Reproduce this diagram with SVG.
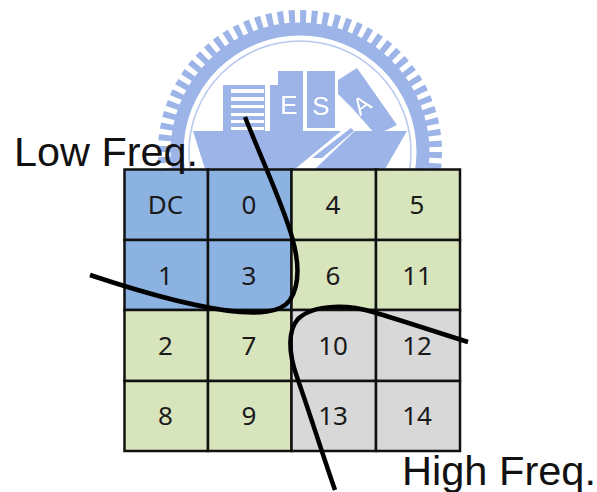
<svg xmlns="http://www.w3.org/2000/svg" width="597" height="492" viewBox="0 0 597 492">
<style>
.cell{stroke:#111;stroke-width:2.5}
.b{fill:#8cb2e1}.g{fill:#d8e4bc}.h{fill:#d8d8d8}
.n{font:26px "Noto Sans","Liberation Sans",sans-serif;fill:#1a1a1a;text-anchor:middle}
.big{font:41px "Liberation Sans",Arial,sans-serif;fill:#111}
.curve{fill:none;stroke:#000;stroke-width:4.5;stroke-linecap:butt}
.logo{fill:#9db4e8}
</style>
<defs><filter id="soft"><feGaussianBlur stdDeviation="0.7"/></filter></defs>
<rect width="597" height="492" fill="#fff"/>
<g id="logo" filter="url(#soft)">
<circle cx="300" cy="152" r="135.5" fill="none" stroke="#9db4e8" stroke-width="13" stroke-dasharray="6 5.2"/>
<circle cx="300" cy="152" r="123" fill="none" stroke="#9db4e8" stroke-width="13"/>
<circle cx="300" cy="152" r="111" fill="none" stroke="#b9c9ee" stroke-width="1.5"/>
<rect class="logo" x="223" y="85" width="42" height="46"/>
<g fill="#fff"><rect x="231" y="89" width="33" height="4"/><rect x="231" y="97" width="33" height="4"/><rect x="231" y="105" width="33" height="3"/><rect x="231" y="113" width="33" height="3"/><rect x="231" y="120" width="33" height="3"/><rect x="231" y="127" width="33" height="3"/></g>
<rect class="logo" x="270" y="85" width="10" height="46"/>
<rect class="logo" x="278" y="71" width="25" height="60"/>
<rect class="logo" x="307" y="71" width="28" height="57"/>
<polygon class="logo" points="338,80 357,68 397,125 376,135 352,108 338,94"/>
<polygon class="logo" points="193,131 407,131 385,169 205,169"/>
<polygon fill="#fff" points="352,122 358,128 315,169 295,169"/>
<polygon class="logo" points="351,128 354,131 322,158 312,158"/>
<text x="289" y="114" font-family="Liberation Sans,sans-serif" font-size="26" fill="#fff" text-anchor="middle">E</text>
<text x="321" y="115" font-family="Liberation Sans,sans-serif" font-size="26" fill="#fff" text-anchor="middle">S</text>
<text x="362" y="113" font-family="Liberation Sans,sans-serif" font-size="24" fill="#fff" text-anchor="middle" transform="rotate(-35 362 105)">A</text>
</g>
<g id="grid">
<rect class="cell b" x="124.5" y="169.5" width="83.5" height="70.5"/><rect class="cell b" x="208" y="169.5" width="83.5" height="70.5"/><rect class="cell g" x="291.5" y="169.5" width="84.5" height="70.5"/><rect class="cell g" x="376" y="169.5" width="84" height="70.5"/>
<rect class="cell b" x="124.5" y="240" width="83.5" height="70"/><rect class="cell b" x="208" y="240" width="83.5" height="70"/><rect class="cell g" x="291.5" y="240" width="84.5" height="70"/><rect class="cell g" x="376" y="240" width="84" height="70"/>
<rect class="cell g" x="124.5" y="310" width="83.5" height="71"/><rect class="cell g" x="208" y="310" width="83.5" height="71"/><rect class="cell h" x="291.5" y="310" width="84.5" height="71"/><rect class="cell h" x="376" y="310" width="84" height="71"/>
<rect class="cell g" x="124.5" y="381" width="83.5" height="70"/><rect class="cell g" x="208" y="381" width="83.5" height="70"/><rect class="cell h" x="291.5" y="381" width="84.5" height="70"/><rect class="cell h" x="376" y="381" width="84" height="70"/>
</g>
<g id="labels">
<text class="n" x="165.500" y="214">DC</text><text class="n" x="249" y="214">0</text><text class="n" x="333" y="214">4</text><text class="n" x="417" y="214">5</text>
<text class="n" x="165.500" y="285">1</text><text class="n" x="249" y="285">3</text><text class="n" x="333" y="285">6</text><text class="n" x="417" y="285">11</text>
<text class="n" x="165.500" y="355">2</text><text class="n" x="249" y="355">7</text><text class="n" x="333" y="355">10</text><text class="n" x="417" y="355">12</text>
<text class="n" x="165.500" y="425">8</text><text class="n" x="249" y="425">9</text><text class="n" x="333" y="425">13</text><text class="n" x="417" y="425">14</text>
</g>
<g id="connectors">
<path class="curve" d="M245 117 C262 160 283 205 292 237 C298 258 301 283 290 300 C280 314 255 313 240 312 C205 309 150 295 90 275"/>
<path class="curve" d="M468 342 C430 330 400 320 373 312 C350 305 315 303 298 319 C288 330 288 352 297 377 C312 420 325 462 335 490"/>
</g>
<text id="low" class="big" x="14" y="166" textLength="184" lengthAdjust="spacingAndGlyphs">Low Freq.</text>
<text id="high" class="big" x="402" y="485" textLength="194" lengthAdjust="spacingAndGlyphs">High Freq.</text>
</svg>
